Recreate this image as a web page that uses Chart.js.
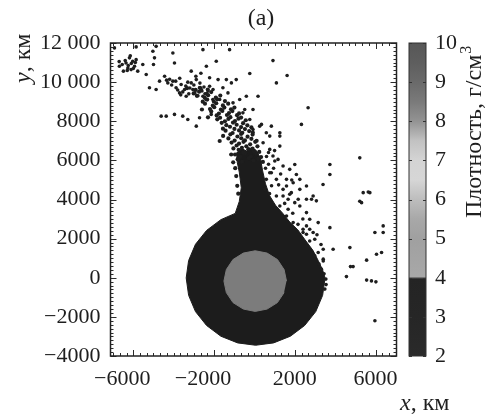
<!DOCTYPE html>
<html>
<head>
<meta charset="utf-8">
<script src="https://cdn.jsdelivr.net/npm/chart.js@4.4.1/dist/chart.umd.min.js"></script>
<style>
  html, body { margin: 0; padding: 0; background: #fff; }
  #wrap { width: 494px; height: 416px; }
</style>
</head>
<body>
<div id="wrap"><canvas id="impactChart" width="494" height="416"></canvas></div>
<script>
// axis ticks (km) and the labels printed for them
const xTicks = [-6000, -2000, 2000, 6000];
const xTickLabels = ['−6000', '−2000', '2000', '6000'];
const yTicks = [-4000, -2000, 0, 2000, 4000, 6000, 8000, 10000, 12000];
const yTickLabels = ['−4000', '−2000', '0', '2000', '4000', '6000', '8000', '10 000', '12 000'];
const densityTicks = [2, 3, 4, 5, 6, 7, 8, 9, 10];

// density colour bar: g/cm3 -> grey
const densityLevels = [2, 3, 3.97, 4.03, 4.5, 5, 5.5, 6, 6.5, 7, 7.5, 8, 8.5, 9, 9.5, 10];
const densityGreys = ['#2a2a2a', '#262626', '#242424', '#a8a8a8', '#a4a4a4', '#a0a0a0', '#a8a8a8', '#bdbdbd',
  '#d6d6d6', '#d4d4d4', '#c2c2c2', '#939393', '#7a7a7a', '#6a6a6a', '#5e5e5e', '#575757'];

// mantle outline (km), running up into the solid base of the tail
const mantleEdge = [
  [-880, 6400], [-850, 5900], [-750, 5400], [-650, 4600], [-750, 3900], [-950, 3290],
  [-1660, 2970], [-2370, 2420], [-2920, 1710], [-3260, 880], [-3380, -10], [-3260, -900],
  [-2920, -1730], [-2370, -2440], [-1660, -2990], [-830, -3330], [60, -3450], [950, -3330],
  [1780, -2990], [2490, -2440], [3040, -1730], [3380, -900], [3500, -10], [3380, 400],
  [3150, 900], [2900, 1400], [2500, 1950], [2150, 2450], [1750, 2850], [1400, 3300],
  [1050, 3700], [750, 4200], [550, 4800], [400, 5500], [300, 6100], [100, 6500], [-150, 6650],
  [-400, 6480], [-650, 6620]
];

// iron core outline (km)
const coreEdge = [
  [1590, -170], [1470, 420], [1140, 930], [630, 1260], [40, 1380], [-550, 1260], [-1060, 930],
  [-1390, 420], [-1510, -170], [-1390, -760], [-1060, -1270], [-550, -1600], [40, -1720],
  [630, -1600], [1140, -1270], [1470, -760]
];

// ejected particles (km)
const upperArc = [
  [-6935, 11750], [-6690, 10810], [-6490, 10560], [-6360, 10980], [-6190, 11240], [-6030, 11070],
  [-5940, 10810], [-6110, 10640], [-5860, 11150], [-6270, 10720], [-5780, 10560], [-5860, 11800],
  [-5530, 10900], [-5360, 10390], [-5030, 11580], [-4950, 11240], [-5000, 10900], [-4870, 11830],
  [-4700, 10050], [-5200, 9710], [-4870, 9620], [-4450, 10300], [-4290, 9960], [-4040, 11490],
  [-3960, 10980], [-4040, 10050], [-3880, 9710], [-3630, 9880], [-3710, 9450], [-3460, 9620],
  [-3380, 9280], [-3130, 10560], [-3130, 9960], [-3050, 9620], [-2880, 10130], [-2720, 9710],
  [-2550, 9280], [-2390, 9110], [-2220, 9790], [-2060, 9110], [-4620, 8260], [-4370, 8260],
  [-3960, 8350], [-3550, 8260], [-3300, 8090], [-2880, 7750], [-2720, 8180], [-2140, 8350],
  [-6400, 11100], [-6250, 10850], [-6100, 10950], [-6000, 10700], [-6300, 10600], [-6550, 10900],
  [-5900, 11000], [-6150, 11350], [-6700, 11050],
  [-4200, 10150], [-4100, 9850], [-3900, 10050], [-3800, 9600], [-3700, 10200], [-3550, 9500],
  [-3400, 9800], [-3300, 10000], [-3250, 9400], [-3200, 9700], [-3000, 9850], [-2950, 9450],
  [-2800, 9300], [-2700, 9950], [-2600, 9550], [-2500, 9750], [-2450, 9400], [-2300, 9550],
  [-4350, 10100], [-3650, 9350], [-2900, 10300], [-2650, 10450],
  [-2550, 11660], [-2380, 10810], [-2630, 9620], [-2220, 10220], [-1800, 10130], [-1560, 9710],
  [-1390, 10130], [-1140, 9960], [-900, 10130], [-1230, 11660], [-1890, 11070], [-2050, 9620],
  [-1720, 9110], [-1310, 9450], [-1060, 8940], [-730, 9110], [-400, 9280], [-230, 10440]
];

// speckled column above the solid tail base
const tailBand = [
  [-830, 6060], [-610, 5930], [-280, 6110], [-40, 5990], [190, 6080], [420, 5920],
  [-960, 6300], [-700, 6180], [-470, 6360], [-180, 6210], [90, 6340], [330, 6170],
  [-780, 6540], [-560, 6400], [-300, 6570], [-20, 6470], [240, 6430],
  [-1040, 6610], [-880, 6760], [-620, 6640], [-400, 6720], [-90, 6600], [150, 6720],
  [-1130, 6910], [-760, 6860], [-540, 6950], [-210, 6820], [40, 6950],
  [-1290, 7120], [-980, 7010], [-650, 7130], [-470, 7020], [-150, 7100], [110, 7000],
  [-1190, 7330], [-840, 7220], [-660, 7350], [-340, 7210], [-90, 7320],
  [-1430, 7520], [-1080, 7400], [-760, 7530], [-600, 7410], [-260, 7500], [-80, 7420],
  [-1560, 7620], [-1210, 7720], [-990, 7610], [-660, 7700], [-470, 7600], [-150, 7690],
  [-1620, 7920], [-1390, 7800], [-1060, 7930], [-880, 7820], [-560, 7900], [-350, 7790],
  [-1840, 8100], [-1460, 8000], [-1290, 8120], [-960, 8010], [-790, 8130], [-430, 8050],
  [-1870, 8300], [-1700, 8180], [-1360, 8320], [-1190, 8210], [-860, 8310], [-660, 8190],
  [-2140, 8500], [-1760, 8390], [-1590, 8530], [-1260, 8420], [-1090, 8520], [-760, 8400],
  [-2200, 8620], [-1990, 8720], [-1660, 8600], [-1490, 8700], [-1160, 8610], [-990, 8700],
  [-2450, 8900], [-2060, 8800], [-1890, 8920], [-1560, 8810], [-1300, 8900],
  [-2560, 9000], [-2340, 9110], [-2010, 9010], [-1840, 9120], [-1460, 9030],
  [-2850, 9300], [-2460, 9200], [-2290, 9330], [-1910, 9210], [-1690, 9310],
  [-3010, 9420], [-2740, 9510], [-2360, 9400], [-2140, 9490],
  [-3340, 9690], [-2910, 9600], [-2690, 9710], [-2310, 9620],
  [-1720, 6990], [-1150, 6300], [-1050, 5900], [-950, 5600], [-900, 5200], [-850, 4700],
  [-800, 4300], [-1550, 7250], [-2300, 8200], [-2600, 8600]
];

const sideSpray = [
  [430, 6900], [590, 7410], [760, 6560], [920, 6220], [1170, 6050], [1260, 6730], [1420, 5710],
  [1750, 5540], [2000, 5790], [2080, 5280], [2250, 5030], [2580, 4690], [2910, 4180], [1590, 4690],
  [1830, 4350], [1420, 4180], [1670, 4010], [1090, 5030], [840, 5370], [590, 5030], [510, 4520],
  [760, 5370], [1010, 5970], [1090, 4180], [1420, 4520], [1590, 5030], [1920, 4860], [2250, 4520],
  [2580, 4010], [700, 5800], [600, 6200], [850, 4700], [1200, 4750], [950, 5600], [550, 5600],
  [750, 4300], [1300, 5300], [1850, 5000], [700, 6400], [1000, 6500], [-70, 7580], [350, 7840],
  [-480, 8600], [760, 7240], [180, 9280], [260, 7750], [-70, 8600], [-230, 8090], [-570, 8430],
  [1260, 7410], [840, 7750], [1260, 7240],
  [2250, 3670], [2580, 3330], [2740, 2480], [2990, 1970], [2740, 2990], [2160, 2730], [2410, 2310],
  [2000, 3840], [1670, 3500], [2580, 2650], [2910, 2310], [3160, 1290], [2990, 1120], [3320, 440],
  [3540, -70], [3490, -580], [1260, 3670], [1590, 3160], [1920, 2820], [2410, 2480], [2580, 2220],
  [2740, 1880], [3410, 950], [3300, 1700], [3100, 2200], [2400, 3000], [1900, 3300], [1500, 3800],
  [3450, 200], [3200, 700], [3550, -350], [2170, 4010], [1750, 4270], [2830, 4010], [3070, 3930]
];

const farDebris = [
  [920, 11100], [1090, 9960], [1620, 10340], [2660, 8690], [2330, 7840],
  [3400, 4770], [3740, 5790], [3740, 5280], [5220, 6130], [5390, 4350], [5640, 4380], [5720, 4350],
  [5220, 3910], [5310, 3840], [6380, 2650], [5970, 2310], [6380, 2310], [3160, 2820], [3740, 2560],
  [3410, 1460], [3900, 1460], [4730, 1540], [3410, 860], [4760, 570], [4890, 570], [4560, 60],
  [5560, 900], [6050, 1200], [6300, 1290], [5560, -120], [5800, -160], [6020, -210], [5970, -2200]
];

const SERIF = '"Liberation Serif", "DejaVu Serif", serif';
const INK = '#1e1e1e';

const toXY = list => list.map(([x, y]) => ({ x, y }));

const outlineSet = (pts, color, order) => ({
  data: toXY(pts),
  showLine: true,
  fill: 'shape',
  backgroundColor: color,
  borderColor: color,
  borderWidth: 1,
  pointRadius: 0,
  order: order
});

const particleSet = (pts, r = 1.8) => ({
  data: toXY(pts),
  pointRadius: r,
  pointBackgroundColor: INK,
  pointBorderWidth: 0,
  order: 1
});

// frame, inward tick marks, colour bar and titles
const decorations = {
  id: 'decorations',
  beforeDraw(chart) {
    const ctx = chart.ctx;
    ctx.save();
    ctx.fillStyle = '#fff';
    ctx.fillRect(0, 0, chart.width, chart.height);
    ctx.restore();
  },
  afterDraw(chart) {
    const { ctx, chartArea: a, scales } = chart;
    const sx = scales.x, sy = scales.y, sc = scales.c;
    ctx.save();

    // tick marks on all four sides, pointing inwards
    ctx.strokeStyle = '#2b2b2b';
    ctx.lineWidth = 1;
    ctx.beginPath();
    for (let v = -4000; v <= 12000; v += 200) {
      const p = Math.round(sy.getPixelForValue(v)) + 0.5;
      const len = yTicks.includes(v) ? 6 : 3;
      ctx.moveTo(a.left, p); ctx.lineTo(a.left + len, p);
      ctx.moveTo(a.right, p); ctx.lineTo(a.right - len, p);
    }
    for (let k = -24; k <= 24; k++) {
      const v = k * 1000 / 3;
      if (v < sx.min || v > sx.max) continue;
      const p = Math.round(sx.getPixelForValue(v)) + 0.5;
      const len = (k + 18) % 12 === 0 ? 6 : 3;
      ctx.moveTo(p, a.bottom); ctx.lineTo(p, a.bottom - len);
      ctx.moveTo(p, a.top); ctx.lineTo(p, a.top + len);
    }
    ctx.stroke();

    ctx.lineWidth = 1.5;
    ctx.strokeStyle = '#222';
    ctx.strokeRect(a.left, a.top, a.right - a.left, a.bottom - a.top);

    // colour bar on the hidden density scale
    const top = sc.getPixelForValue(10), bottom = sc.getPixelForValue(2);
    const bx = a.right + 12.5, bw = 17;
    const grad = ctx.createLinearGradient(0, bottom, 0, top);
    densityLevels.forEach((v, i) => {
      grad.addColorStop((bottom - sc.getPixelForValue(v)) / (bottom - top), densityGreys[i]);
    });
    ctx.fillStyle = grad;
    ctx.fillRect(bx, top, bw, bottom - top);
    ctx.lineWidth = 1;
    ctx.strokeStyle = '#333';
    ctx.strokeRect(bx, top, bw, bottom - top);
    ctx.beginPath();
    densityTicks.forEach(v => {
      const p = Math.round(sc.getPixelForValue(v)) + 0.5;
      ctx.moveTo(bx, p); ctx.lineTo(bx + 3, p);
      ctx.moveTo(bx + bw, p); ctx.lineTo(bx + bw - 3, p);
    });
    ctx.stroke();

    ctx.fillStyle = INK;
    ctx.font = '22px ' + SERIF;
    ctx.textAlign = 'left';
    ctx.textBaseline = 'middle';
    densityTicks.forEach(v => ctx.fillText(String(v), bx + bw + 9, sc.getPixelForValue(v)));

    // titles
    ctx.textBaseline = 'alphabetic';
    ctx.textAlign = 'center';
    ctx.font = '24px ' + SERIF;
    ctx.fillText('(a)', 261, 25);

    ctx.textAlign = 'left';
    ctx.font = 'italic 24px ' + SERIF;
    ctx.fillText('x', 400, 410);
    let w = ctx.measureText('x').width;
    ctx.font = '24px ' + SERIF;
    ctx.fillText(', км', 400 + w, 410);

    ctx.save();
    ctx.translate(30, 83);
    ctx.rotate(-Math.PI / 2);
    ctx.font = 'italic 24px ' + SERIF;
    ctx.fillText('y', 0, 0);
    w = ctx.measureText('y').width;
    ctx.font = '24px ' + SERIF;
    ctx.fillText(', км', w, 0);
    ctx.restore();

    ctx.save();
    ctx.translate(481, 218);
    ctx.rotate(-Math.PI / 2);
    ctx.font = '24px ' + SERIF;
    ctx.fillText('Плотность, г/см', 0, 0);
    w = ctx.measureText('Плотность, г/см').width;
    ctx.font = '16px ' + SERIF;
    ctx.fillText('3', w + 1, -10);
    ctx.restore();

    ctx.restore();
  }
};

const tickFont = { family: SERIF, size: 22 };

new Chart(document.getElementById('impactChart'), {
  type: 'scatter',
  data: {
    datasets: [
      outlineSet(coreEdge, '#7c7c7c', 0),
      particleSet(upperArc),
      particleSet(tailBand, 2.1),
      particleSet(sideSpray),
      particleSet(farDebris),
      outlineSet(mantleEdge, '#1c1c1c', 3)
    ]
  },
  options: {
    responsive: false,
    animation: false,
    events: [],
    layout: { padding: { left: 30, right: 97.5, top: 43, bottom: 13.6 } },
    plugins: { legend: { display: false }, tooltip: { enabled: false } },
    scales: {
      x: {
        type: 'linear', min: -7130, max: 7040,
        grid: { display: false, drawTicks: false },
        border: { display: false },
        afterBuildTicks: s => { s.ticks = xTicks.map(v => ({ value: v })); },
        ticks: {
          font: tickFont, color: INK, padding: 10, maxRotation: 0, autoSkip: false,
          // negative labels keep their digits centred, the minus hangs left
          callback: v => xTickLabels[xTicks.indexOf(v)] + (v < 0 ? '\u2003' : '')
        }
      },
      y: {
        type: 'linear', min: -4000, max: 12000,
        grid: { display: false, drawTicks: false },
        border: { display: false },
        afterBuildTicks: s => { s.ticks = yTicks.map(v => ({ value: v })); },
        ticks: {
          font: tickFont, color: INK, padding: 10, autoSkip: false,
          callback: v => yTickLabels[yTicks.indexOf(v)]
        }
      },
      c: {
        axis: 'y', type: 'linear', position: 'right', min: 2, max: 10,
        display: false
      }
    }
  },
  plugins: [decorations]
});
</script>
</body>
</html>
